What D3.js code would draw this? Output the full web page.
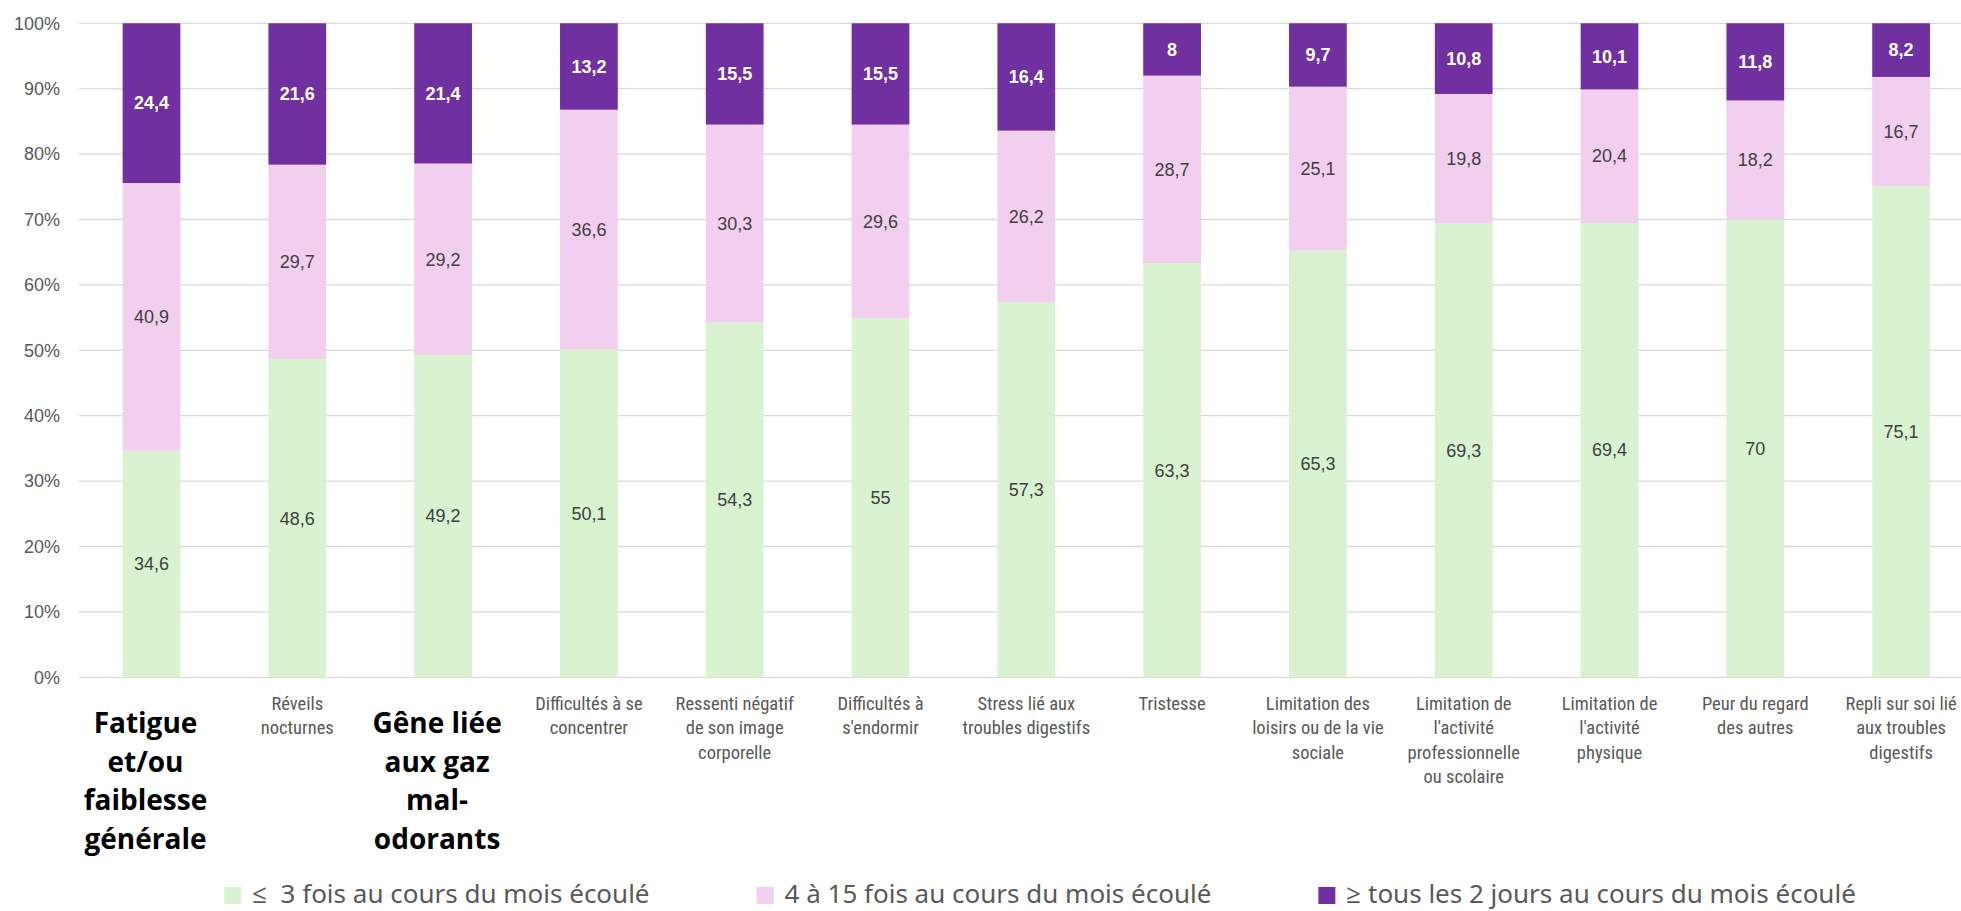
<!DOCTYPE html>
<html>
<head>
<meta charset="utf-8">
<script src="https://cdn.jsdelivr.net/npm/d3@7"></script>
<style>
  body { margin: 0; background: #fff; }
  svg { display: block; }
</style>
</head>
<body>
<div class="chart"></div>
<script>
// categories, wrapped as in the source chart
const categories = [
  ["Fatigue", "et/ou", "faiblesse", "générale"],
  ["Réveils", "nocturnes"],
  ["Gêne liée", "aux gaz", "mal-", "odorants"],
  ["Difficultés à se", "concentrer"],
  ["Ressenti négatif", "de son image", "corporelle"],
  ["Difficultés à", "s'endormir"],
  ["Stress lié aux", "troubles digestifs"],
  ["Tristesse"],
  ["Limitation des", "loisirs ou de la vie", "sociale"],
  ["Limitation de", "l'activité", "professionnelle", "ou scolaire"],
  ["Limitation de", "l'activité", "physique"],
  ["Peur du regard", "des autres"],
  ["Repli sur soi lié", "aux troubles", "digestifs"]
];
const boldCategories = [0, 2];

const low = [34.6, 48.6, 49.2, 50.1, 54.3, 55, 57.3, 63.3, 65.3, 69.3, 69.4, 70, 75.1];
const mid = [40.9, 29.7, 29.2, 36.6, 30.3, 29.6, 26.2, 28.7, 25.1, 19.8, 20.4, 18.2, 16.7];
const high = [24.4, 21.6, 21.4, 13.2, 15.5, 15.5, 16.4, 8, 9.7, 10.8, 10.1, 11.8, 8.2];

const seriesNames = [
  "≤  3 fois au cours du mois écoulé",
  "4 à 15 fois au cours du mois écoulé",
  "≥ tous les 2 jours au cours du mois écoulé"
];
const seriesColors = ["#D9F2D0", "#F2CEEF", "#7030A0"];
const yTicks = [0, 10, 20, 30, 40, 50, 60, 70, 80, 90, 100];

const W = 1961, H = 911;
const svg = d3.select(".chart").append("svg")
  .attr("width", W).attr("height", H);

const x = d3.scaleBand()
  .domain(d3.range(categories.length))
  .range([78.6, 1974])
  .paddingInner(0.604)
  .paddingOuter(0.302);

const y = d3.scaleLinear().domain([0, 100]).range([677.3, 23.3]);

// gridlines
svg.append("g").selectAll("line")
  .data(yTicks)
  .join("line")
  .attr("x1", 79).attr("x2", W)
  .attr("y1", d => y(d)).attr("y2", d => y(d))
  .attr("stroke", "#d9d9d9").attr("stroke-width", 1.3);

// y axis labels
const yAxis = svg.append("g")
  .attr("transform", "translate(60,0)")
  .call(d3.axisLeft(y).tickValues(yTicks).tickSize(0).tickPadding(0).tickFormat(d => d + "%"));
yAxis.select(".domain").remove();
yAxis.selectAll("text")
  .attr("font-family", "'Liberation Sans', Arial, sans-serif")
  .attr("font-size", 18)
  .attr("fill", "#595959");

// stacked, normalised to 100%
const rows = categories.map((c, i) => {
  const tot = low[i] + mid[i] + high[i];
  return { i, vals: [low[i], mid[i], high[i]], tot };
});
const stack = d3.stack()
  .keys([0, 1, 2])
  .value((d, k) => d.vals[k] / d.tot * 100);
const layers = stack(rows);

const layerG = svg.append("g").selectAll("g")
  .data(layers)
  .join("g")
  .attr("fill", (d, k) => seriesColors[k]);

layerG.selectAll("rect")
  .data(d => d)
  .join("rect")
  .attr("x", d => x(d.data.i))
  .attr("width", x.bandwidth())
  .attr("y", d => y(d[1]))
  .attr("height", d => y(d[0]) - y(d[1]));

// data labels
layers.forEach((layer, k) => {
  svg.append("g").selectAll("text")
    .data(layer)
    .join("text")
    .attr("x", d => x(d.data.i) + x.bandwidth() / 2)
    .attr("y", d => y((d[0] + d[1]) / 2))
    .attr("dy", "0.35em")
    .attr("text-anchor", "middle")
    .attr("font-family", "'Liberation Sans', Arial, sans-serif")
    .attr("font-size", 18)
    .attr("font-weight", k === 2 ? "bold" : "normal")
    .attr("fill", k === 2 ? "#ffffff" : "#404040")
    .text(d => String(d.data.vals[k]).replace(".", ","));
});

// category labels
svg.append("g").selectAll("text")
  .data(categories)
  .join("text")
  .attr("text-anchor", "middle")
  .each(function(lines, i) {
    const bold = boldCategories.includes(i);
    const t = d3.select(this)
      .attr("font-family", bold ? "'Open Sans', 'Noto Sans', sans-serif" : "'Liberation Sans Narrow', 'Roboto Condensed', 'Roboto', sans-serif")
      .attr("font-size", bold ? 28 : 18.5)
      .attr("font-weight", bold ? "bold" : "normal")
      .attr("fill", bold ? "#000000" : "#595959");
    const cx = x(i) + x.bandwidth() / 2 - (bold ? 6 : 0);
    const y0 = bold ? 733 : 709.5;
    const lh = bold ? 38.5 : 24.5;
    lines.forEach((ln, j) => {
      t.append("tspan").attr("x", cx).attr("y", y0 + j * lh).text(ln);
    });
  });

// legend
const legend = svg.append("g");
const items = legend.selectAll("g")
  .data(seriesNames)
  .join("g");
items.append("rect")
  .attr("width", 17).attr("height", 17)
  .attr("y", 887)
  .attr("fill", (d, k) => seriesColors[k]);
items.append("text")
  .attr("x", 28)
  .attr("y", 903)
  .attr("font-family", "'Noto Sans', 'Open Sans', sans-serif")
  .attr("font-size", 26)
  .attr("fill", "#595959")
  .style("white-space", "pre")
  .text(d => d);
const widths = [];
items.select("text").each(function() { widths.push(28 + this.getComputedTextLength()); });
const gap = 107;
const total = d3.sum(widths) + gap * (widths.length - 1);
let lx = 1040 - total / 2;
items.attr("transform", (d, k) => {
  const tx = lx;
  lx += widths[k] + gap;
  return `translate(${tx},0)`;
});
</script>
</body>
</html>
